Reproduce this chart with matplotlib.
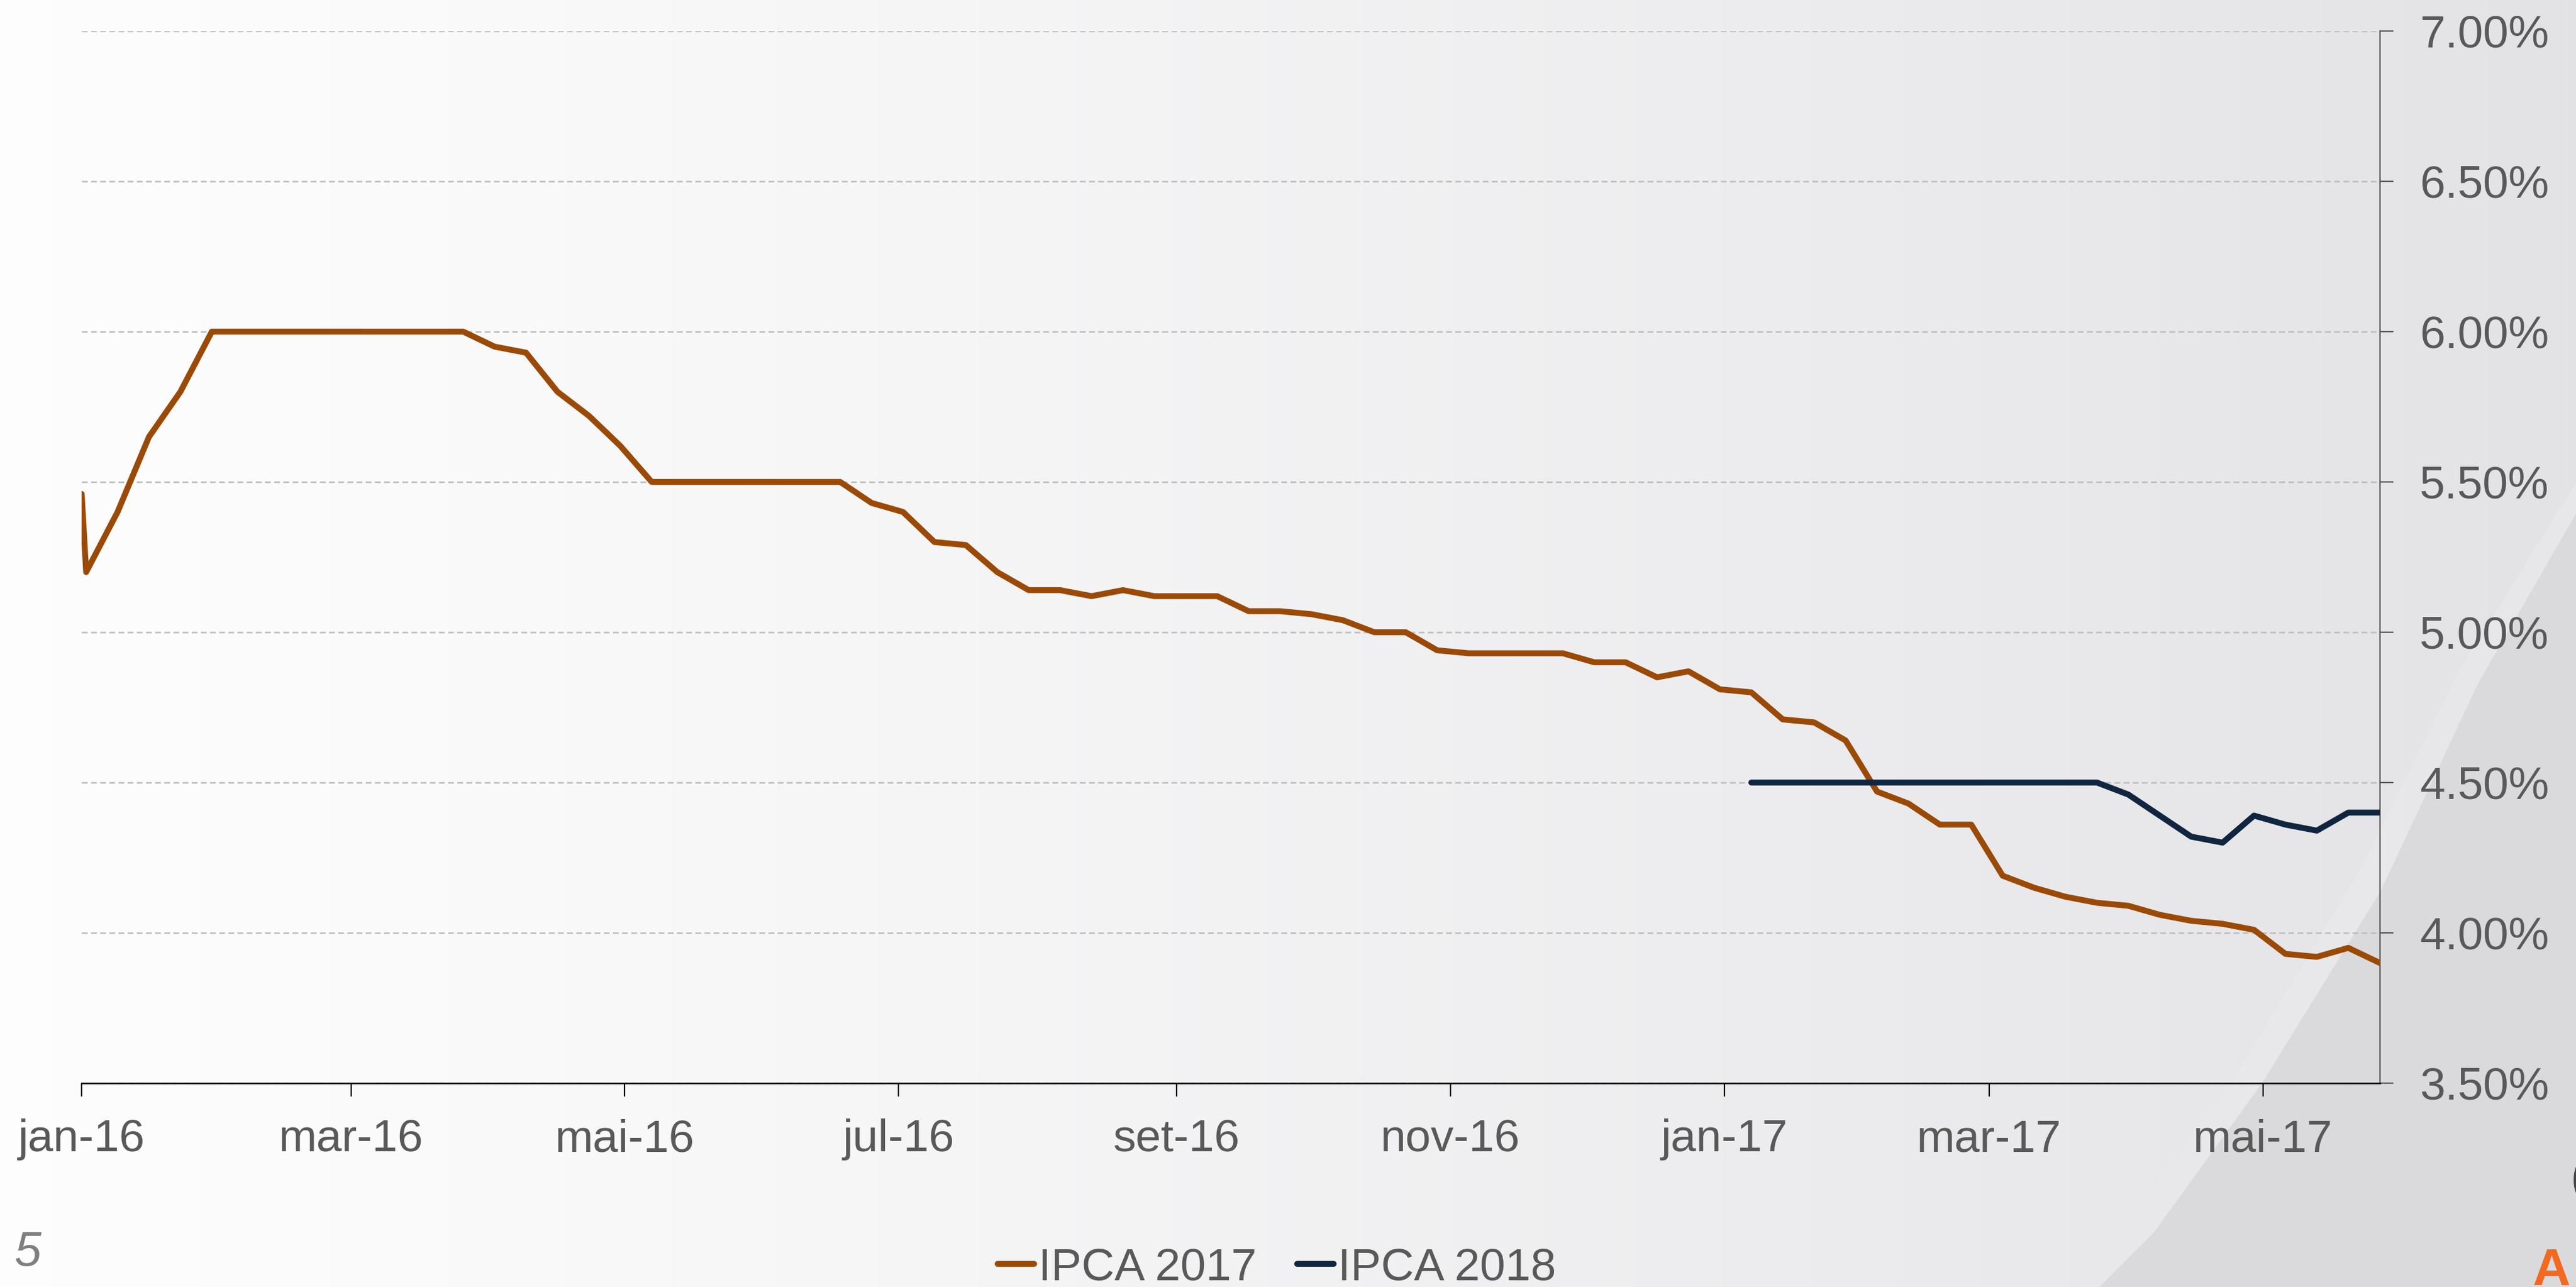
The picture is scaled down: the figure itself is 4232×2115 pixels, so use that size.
import matplotlib
matplotlib.use("Agg")
import matplotlib.pyplot as plt
import numpy as np
import pandas as pd
from matplotlib.patches import Polygon
from matplotlib.lines import Line2D

plt.rcParams['font.family'] = ['Liberation Sans', 'DejaVu Sans']

# ---------------- data ----------------
first_date = '2016-01-01'
first_value = 5.46
week_start = '2016-01-02'

ipca2017 = [5.20, 5.40, 5.65, 5.80,
            6.00, 6.00, 6.00, 6.00, 6.00, 6.00, 6.00, 6.00, 6.00,
            5.95, 5.93, 5.80, 5.72, 5.62,
            5.50, 5.50, 5.50, 5.50, 5.50, 5.50, 5.50,
            5.43, 5.40, 5.30, 5.29, 5.20, 5.14, 5.14, 5.12, 5.14, 5.12,
            5.12, 5.12, 5.07, 5.07, 5.06, 5.04, 5.00, 5.00, 4.94, 4.93,
            4.93, 4.93, 4.93, 4.90, 4.90, 4.85, 4.87, 4.81, 4.80, 4.71,
            4.70, 4.64, 4.47, 4.43, 4.36, 4.36, 4.19, 4.15, 4.12, 4.10,
            4.09, 4.06, 4.04, 4.03, 4.01, 3.93, 3.92, 3.95, 3.90]

ipca2018_start_week = 53
ipca2018 = [4.50, 4.50, 4.50, 4.50, 4.50, 4.50, 4.50, 4.50, 4.50, 4.50,
            4.50, 4.50, 4.46, 4.39, 4.32, 4.30, 4.39, 4.36, 4.34, 4.40,
            4.40]

tick_dates = ['2016-01-01', '2016-03-01', '2016-05-01', '2016-07-01',
              '2016-09-01', '2016-11-01', '2017-01-01', '2017-03-01',
              '2017-05-01']
tick_labels = ['jan-16', 'mar-16', 'mai-16', 'jul-16', 'set-16', 'nov-16',
               'jan-17', 'mar-17', 'mai-17']
y_ticks = [3.5, 4.0, 4.5, 5.0, 5.5, 6.0, 6.5, 7.0]

series_names = ['IPCA 2017', 'IPCA 2018']
orange = '#9A4A06'
navy = '#10253F'
text_gray = '#595959'
FS = 54
LW = 7

# ---------------- build ----------------
weeks = pd.date_range(week_start, periods=len(ipca2017), freq='7D')
x17 = [pd.Timestamp(first_date)] + list(weeks)
y17 = [first_value] + ipca2017
x18 = weeks[ipca2018_start_week:ipca2018_start_week + len(ipca2018)]

W, H, DPI = 4232, 2115, 100
fig = plt.figure(figsize=(W / DPI, H / DPI), dpi=DPI)

# background
bg = fig.add_axes([0, 0, 1, 1], zorder=0)
g = np.linspace(0, 1, 512)[:, None]
left_c = np.array([0.993, 0.993, 0.993])
right_c = np.array([0.890, 0.890, 0.902])
img = (left_c + (right_c - left_c) * g ** 1.2)[None, :, :]
bg.imshow(img, extent=[0, 1, 0, 1], aspect='auto', interpolation='bilinear')
band = [(0.800, 0.0), (0.824, 0.045), (0.868, 0.165), (0.915, 0.320),
        (0.955, 0.480), (1.0, 0.625), (1.0, 0.0)]
bg.add_patch(Polygon(band, closed=True, fc='#e9e9eb', ec='none', alpha=0.8))
curve = [(0.815, 0.0), (0.836, 0.042), (0.878, 0.158), (0.924, 0.307),
         (0.962, 0.469), (1.0, 0.601), (1.0, 0.0)]
bg.add_patch(Polygon(curve, closed=True, fc='#dadadd', ec='none'))
bg.set_xlim(0, 1)
bg.set_ylim(0, 1)
bg.axis('off')

ax = fig.add_axes([0.0317, 0.1584, 0.9238 - 0.0317, 0.9759 - 0.1584], zorder=1)
ax.patch.set_alpha(0)

ax.plot(x17, y17, color=orange, lw=LW, solid_joinstyle='round',
        solid_capstyle='round', label=series_names[0], zorder=3)
ax.plot(x18, ipca2018, color=navy, lw=LW, solid_joinstyle='round',
        solid_capstyle='round', label=series_names[1], zorder=3)

ax.set_xlim(pd.Timestamp(first_date), weeks[-1])
ax.set_ylim(y_ticks[0], y_ticks[-1])

ax.set_xticks([pd.Timestamp(d) for d in tick_dates])
ax.set_xticklabels(tick_labels)
ax.yaxis.tick_right()
ax.set_yticks(y_ticks)
ax.set_yticklabels(['%.2f%%' % v for v in y_ticks])

ax.grid(axis='y', color='#bfbfbf', lw=1.9, linestyle=(0, (3.6, 2.1)))
ax.grid(axis='x', visible=False)
ax.set_axisbelow(True)

for s in ['left', 'top']:
    ax.spines[s].set_visible(False)
ax.spines['right'].set_color('#555555')
ax.spines['right'].set_linewidth(1.6)
ax.spines['bottom'].set_color('black')
ax.spines['bottom'].set_linewidth(1.8)

ax.tick_params(axis='x', direction='out', length=16, width=1.6, color='black',
               labelsize=FS, labelcolor=text_gray, pad=26)
ax.tick_params(axis='y', direction='out', length=16, width=1.6,
               color='#555555', labelsize=FS, labelcolor=text_gray, pad=31,
               left=False, right=True, labelleft=False, labelright=True)

handles = [Line2D([], [], color=orange, lw=LW, solid_capstyle='round'),
           Line2D([], [], color=navy, lw=LW, solid_capstyle='round')]
fig.legend(handles, series_names, loc='lower center',
           bbox_to_anchor=(0.4957, -0.0015), ncol=2, frameon=False,
           fontsize=FS, handlelength=0.8, handletextpad=0.1,
           columnspacing=0.88, borderpad=0, borderaxespad=0,
           labelcolor=text_gray)

fig.text(0.0054, 0.0165, '5', fontsize=57, style='italic', color='#7f7f7f',
         ha='left', va='baseline')
fig.text(0.9832, 0.0307, 'A', fontsize=62, weight='bold', color='#F26A21',
         ha='left', va='top')
fig.text(0.9978, 0.083, '(', fontsize=60, color='#444444', ha='left',
         va='center')

fig.savefig('out.png', dpi=DPI)
